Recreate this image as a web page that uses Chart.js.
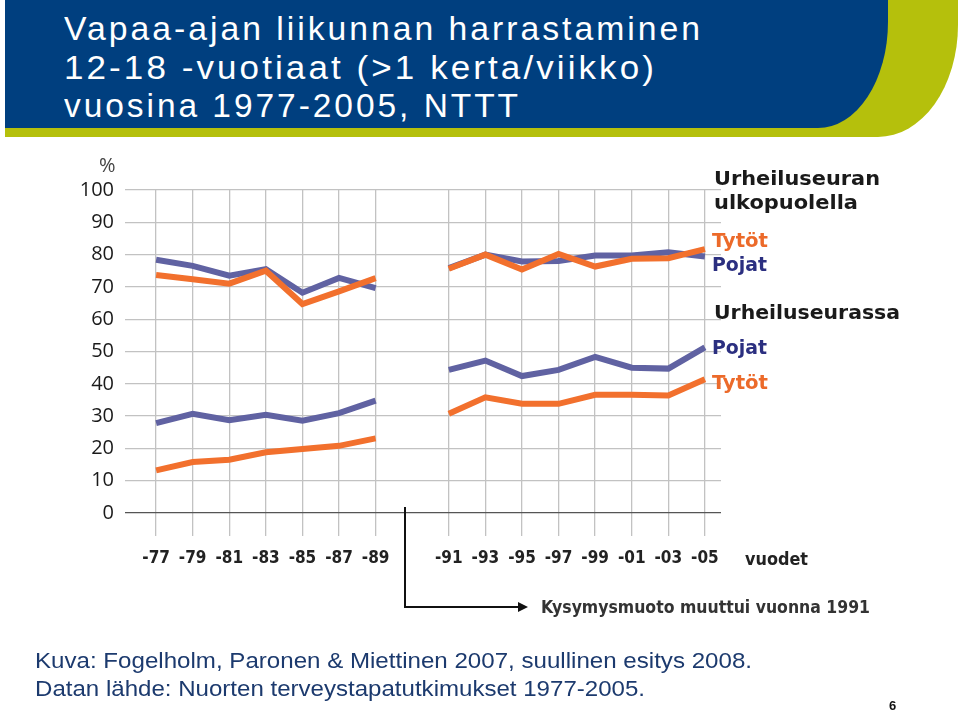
<!DOCTYPE html>
<html>
<head>
<meta charset="utf-8">
<script src="https://cdn.jsdelivr.net/npm/chart.js@4"></script>
<style>
body { margin:0; width:960px; height:713px; position:relative; background:#fff; overflow:hidden; font-family:"Liberation Sans", Arial, sans-serif; }
.abs { position:absolute; white-space:nowrap; transform-origin:0 50%; line-height:1; }
#green { position:absolute; left:5px; top:0; width:953px; height:137px; background:#b5c00c; border-bottom-right-radius:80px 112px; }
#blue { position:absolute; left:5px; top:0; width:883px; height:128px; background:#003f7f; border-bottom-right-radius:70px 106px; }
.title { color:#fff; font-size:34px; letter-spacing:3px; }
.foot { color:#1c3a6e; font-size:22px; }
.lab { font-family:"DejaVu Sans Condensed", "DejaVu Sans", sans-serif; font-weight:bold; font-size:20px; }
#wrap { position:absolute; left:0; top:140px; width:960px; height:440px; }
</style>
</head>
<body>
<div id="green"></div>
<div id="blue"></div>
<div class="abs title" style="left:64px;top:11px" data-w="639">Vapaa-ajan liikunnan harrastaminen</div>
<div class="abs title" style="left:64px;top:50px" data-w="593">12-18 -vuotiaat (&gt;1 kerta/viikko)</div>
<div class="abs title" style="left:64px;top:88px" data-w="457">vuosina 1977-2005, NTTT</div>

<div id="wrap"><canvas id="chart"></canvas></div>

<div class="abs" style="left:99px;top:155px;font-family:'Open Sans',sans-serif;font-size:20px;color:#444">%</div>
<div class="abs lab" style="left:714px;top:168px;color:#1a1a1a" data-w="166">Urheiluseuran</div>
<div class="abs lab" style="left:714px;top:192px;color:#1a1a1a" data-w="144">ulkopuolella</div>
<div class="abs lab" style="left:712px;top:230px;color:#ec6a2a" data-w="56">Tytöt</div>
<div class="abs lab" style="left:712px;top:254px;color:#2b2f80" data-w="55">Pojat</div>
<div class="abs lab" style="left:714px;top:302px;color:#1a1a1a" data-w="186">Urheiluseurassa</div>
<div class="abs lab" style="left:712px;top:337px;color:#2b2f80" data-w="55">Pojat</div>
<div class="abs lab" style="left:712px;top:372px;color:#ec6a2a" data-w="56">Tytöt</div>

<div class="abs" style="left:745px;top:551px;font-family:'DejaVu Sans Condensed',sans-serif;font-weight:bold;font-size:17px;color:#222" data-w="63">vuodet</div>
<svg class="abs" style="left:0;top:0" width="960" height="713">
  <polyline points="405,507 405,607 520,607" fill="none" stroke="#111" stroke-width="2"/>
  <polygon points="528,607 518,602 518,612" fill="#111"/>
</svg>
<div class="abs" style="left:541px;top:599px;font-family:'DejaVu Sans Condensed',sans-serif;font-weight:bold;font-size:17px;color:#333" data-w="329">Kysymysmuoto muuttui vuonna 1991</div>

<div class="abs foot" style="left:35px;top:650px" data-w="717">Kuva: Fogelholm, Paronen &amp; Miettinen 2007, suullinen esitys 2008.</div>
<div class="abs foot" style="left:35px;top:678px" data-w="610">Datan lähde: Nuorten terveystapatutkimukset 1977-2005.</div>
<div class="abs" style="left:889px;top:699px;font-size:13px;font-weight:bold;color:#111">6</div>

<script>
// vuodet (tyhjä kohta = kysymysmuodon muutos)
const xLabels = ['-77', '-79', '-81', '-83', '-85', '-87', '-89', '', '-91', '-93', '-95', '-97', '-99', '-01', '-03', '-05'];

// urheiluseuran ulkopuolella
const tytotUlko = [73.7, 72.4, 71, 75, 64.7, 68.6, 72.7, null, 75.6, 80, 75.4, 80.2, 76.3, 78.7, 78.9, 81.7];
const pojatUlko = [78.4, 76.5, 73.5, 75.5, 68.2, 72.8, 69.6, null, 75.8, 80, 77.9, 78, 79.7, 79.7, 80.7, 79.4];

// urheiluseurassa
const pojatSeura = [27.8, 30.7, 28.7, 30.4, 28.6, 30.9, 34.8, null, 44.3, 47.2, 42.4, 44.3, 48.3, 45, 44.7, 51.3];
const tytotSeura = [13.2, 15.8, 16.5, 18.8, 19.8, 20.8, 23.1, null, 30.7, 35.8, 33.8, 33.8, 36.6, 36.6, 36.4, 41.4];

const yTicks = [0, 10, 20, 30, 40, 50, 60, 70, 80, 90, 100];

const ORANGE = '#f2702d';
const BLUE = '#6062a2';

function points(arr) {
    return arr.map((v, i) => ({ x: i, y: v }));
}

function line(data, color) {
    return {
        data: points(data),
        borderColor: color,
        backgroundColor: color,
        borderWidth: 6,
        pointRadius: 0,
        tension: 0,
        spanGaps: false
    };
}

new Chart(document.getElementById('chart'), {
    type: 'line',
    data: {
        datasets: [
            line(tytotUlko, ORANGE),
            line(pojatUlko, BLUE),
            line(pojatSeura, BLUE),
            line(tytotSeura, ORANGE)
        ]
    },
    options: {
        responsive: true,
        maintainAspectRatio: false,
        animation: false,
        layout: { padding: { top: 50, right: 239, left: 0, bottom: 0 } },
        plugins: {
            legend: { display: false },
            tooltip: { enabled: false }
        },
        scales: {
            x: {
                type: 'linear',
                min: -0.85,
                max: 15.44,
                afterBuildTicks: s => { s.ticks = xLabels.map((l, i) => ({ value: i })); },
                afterFit: s => { s.height = 67; },
                border: { display: false },
                grid: {
                    color: ctx => (ctx.tick && xLabels[ctx.tick.value]) ? '#c2c2c2' : 'rgba(0,0,0,0)',
                    lineWidth: 1.3,
                    tickLength: 23
                },
                ticks: {
                    autoSkip: false,
                    maxRotation: 0,
                    padding: 12,
                    color: '#222',
                    font: { family: '"DejaVu Sans Condensed", "DejaVu Sans", sans-serif', weight: 'bold', size: 17 },
                    callback: v => xLabels[v] ?? ''
                }
            },
            y: {
                min: 0,
                max: 100,
                afterBuildTicks: s => { s.ticks = yTicks.map(v => ({ value: v })); },
                afterFit: s => { s.width = 125; },
                border: { display: false },
                grid: {
                    color: ctx => (ctx.tick && ctx.tick.value === 0) ? '#555' : '#c2c2c2',
                    lineWidth: 1.3,
                    drawTicks: false
                },
                ticks: {
                    padding: 11,
                    color: '#1a1a1a',
                    font: { family: '"Open Sans", sans-serif', size: 20 }
                }
            }
        }
    }
});

// tekstien leveys kuvan mukaiseksi
document.querySelectorAll('[data-w]').forEach(el => {
    const w = el.getBoundingClientRect().width;
    el.style.transform = 'scaleX(' + (parseFloat(el.dataset.w) / w) + ')';
});
</script>
</body>
</html>
